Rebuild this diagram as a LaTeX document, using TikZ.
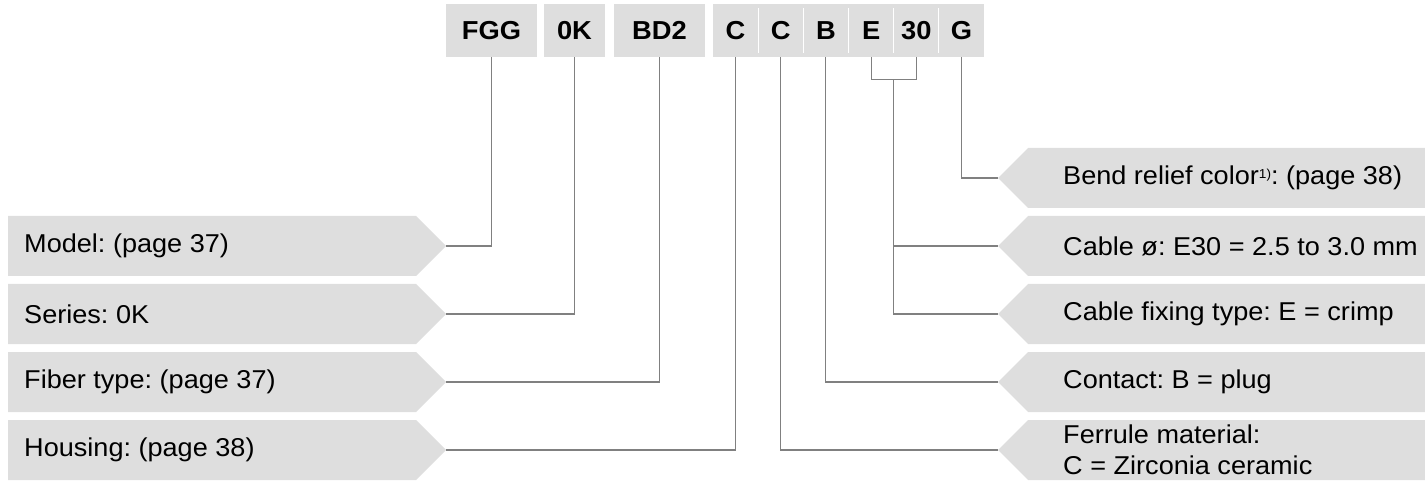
\documentclass[tikz,border=0pt]{standalone}
\usepackage{fontspec}
\setmainfont{Liberation Sans}[FakeStretch=1.05]
\definecolor{boxfill}{RGB}{222,222,222}
\definecolor{linegray}{RGB}{128,128,128}
\begin{document}
\frenchspacing
\begin{tikzpicture}[x=1pt,y=-1pt,
  lbl/.style={inner sep=0pt,anchor=west,font=\fontsize{25.8}{31}\selectfont\frenchspacing,align=left},
  topbox/.style={fill=boxfill,inner sep=0pt,minimum height=53pt,font=\fontsize{26}{26}\selectfont\bfseries},
  cell/.style={inner sep=0pt,minimum height=53pt,minimum width=45.17pt,font=\fontsize{26}{26}\selectfont\bfseries},
  conn/.style={draw=linegray,line width=1.1pt},
  divider/.style={draw=white,line width=1pt}]
\useasboundingbox (0,0) rectangle (1425,481);
% top code boxes
\node[topbox,minimum width=91pt] (fgg) at (491.5,30.5) {FGG};
\node[topbox,minimum width=61pt] (ok) at (574.5,30.5) {0K};
\node[topbox,minimum width=91pt] (bd) at (659.5,30.5) {BD2};
\fill[boxfill] (713,4) rectangle (984,57);
\node[cell] (c1) at (735.6,30.5) {C};
\node[cell] (c2) at (780.75,30.5) {C};
\node[cell] (b) at (825.9,30.5) {B};
\node[cell] (e) at (871.1,30.5) {E};
\node[cell] (n30) at (916.25,30.5) {30};
\node[cell] (g) at (961.4,30.5) {G};
\foreach \x in {758.2,803.3,848.5,893.7,938.8}
  \draw[divider] (\x,8) -- (\x,53);
% left boxes
\foreach \y in {246,314,382,450}
  \fill[boxfill] (8,\y-30) -- (416,\y-30) -- (446,\y) -- (416,\y+30) -- (8,\y+30) -- cycle;
\node[lbl] (model) at (24,246) {Model: (page 37)};
\node[lbl] (series) at (24,314) {Series: 0K};
\node[lbl] (fiber) at (24,382) {Fiber type: (page 37)};
\node[lbl] (housing) at (24,450) {Housing: (page 38)};
\coordinate (modeltip) at (446,246);
\coordinate (seriestip) at (446,314);
\coordinate (fibertip) at (446,382);
\coordinate (housingtip) at (446,450);
% right boxes
\foreach \y in {178,246,314,382,450}
  \fill[boxfill] (1425,\y-30) -- (1028,\y-30) -- (998,\y) -- (1028,\y+30) -- (1425,\y+30) -- cycle;
\node[lbl] (bend) at (1063,178) {Bend relief color\raisebox{6pt}{\fontsize{13}{13}\selectfont 1)}: (page 38)};
\node[lbl] (cable) at (1063,246) {Cable ø: E30 = 2.5 to 3.0 mm};
\node[lbl] (fixing) at (1063,314) {Cable fixing type: E = crimp};
\node[lbl] (contact) at (1063,382) {Contact: B = plug};
\node[lbl] (ferrule) at (1063,450) {Ferrule material:\\C = Zirconia ceramic};
\coordinate (bendtip) at (998,178);
\coordinate (cabletip) at (998,246);
\coordinate (fixingtip) at (998,314);
\coordinate (contacttip) at (998,382);
\coordinate (ferruletip) at (998,450);
% connectors
\draw[conn] (modeltip) -| (fgg.south);
\draw[conn] (seriestip) -| (ok.south);
\draw[conn] (fibertip) -| (bd.south);
\draw[conn] (housingtip) -| (c1.south);
\draw[conn] (ferruletip) -| (c2.south);
\draw[conn] (contacttip) -| (b.south);
\coordinate (brmid) at (893.7,79.3);
\draw[conn] (e.south) |- (brmid) -| (n30.south);
\draw[conn] (brmid) |- (fixingtip);
\draw[conn] (brmid |- cabletip) -- (cabletip);
\draw[conn] (bendtip) -| (g.south);
\end{tikzpicture}
\end{document}
